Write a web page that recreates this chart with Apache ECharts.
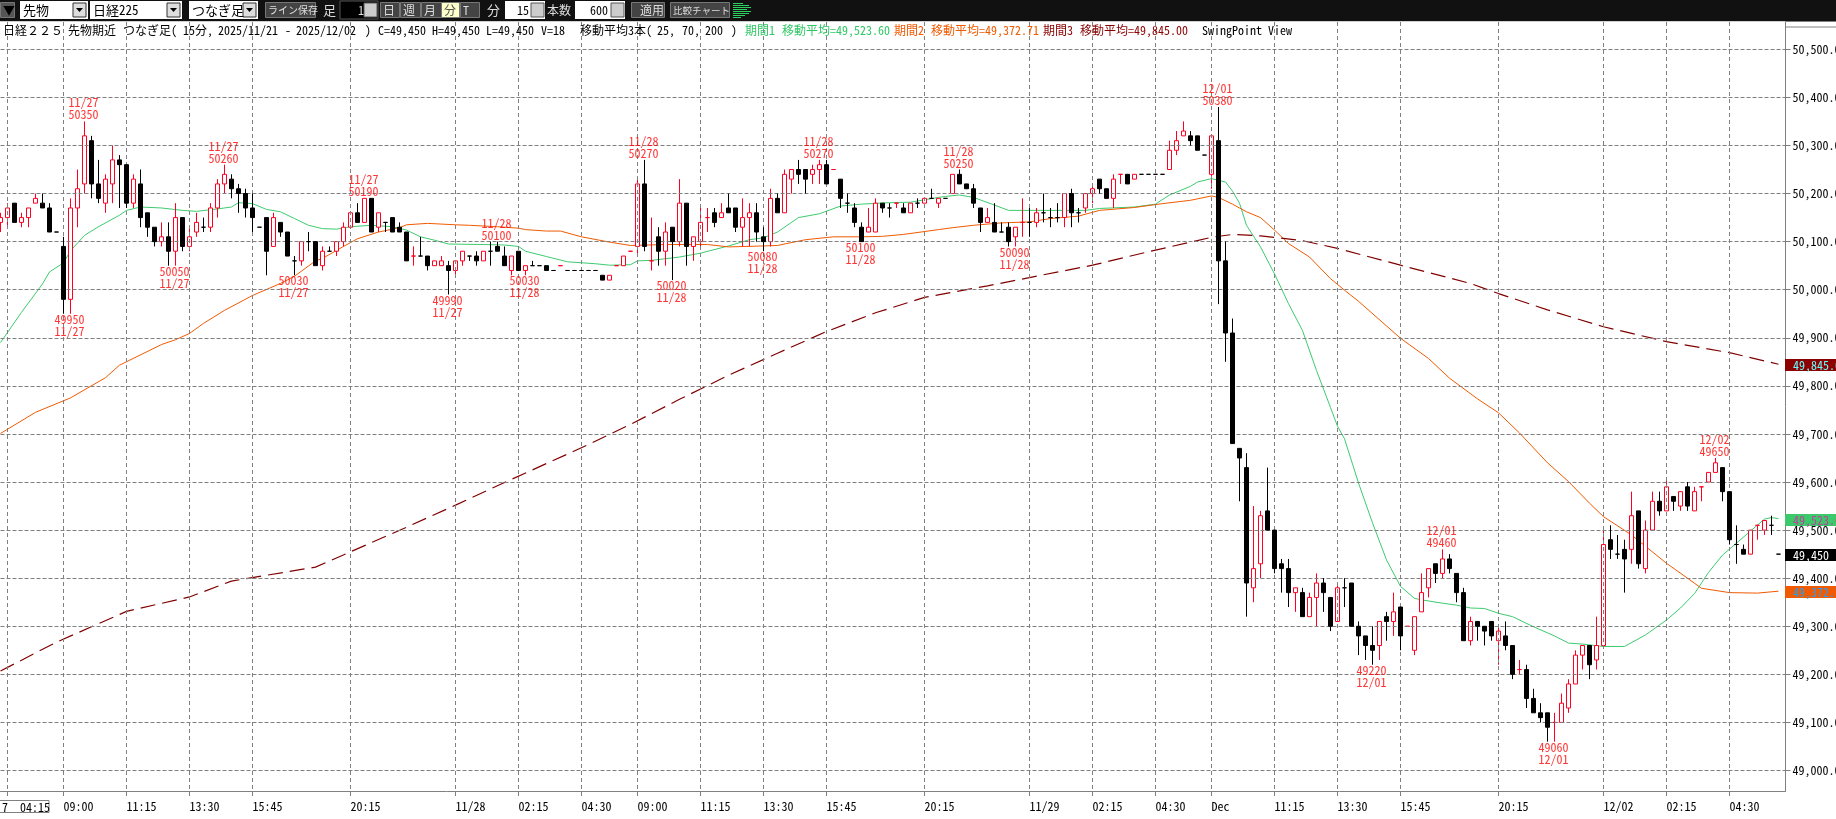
<!DOCTYPE html>
<html>
<head>
<meta charset="utf-8">
<style>html,body{margin:0;padding:0;background:#fff;overflow:hidden}#chart_main{width:1836px;height:819px}</style>
<script src="https://cdn.jsdelivr.net/npm/echarts@6/dist/echarts.min.js"></script>
</head>
<body>
<div id="chart_main"></div>
<script>
// bars, left to right
var opens = [50140,50150,50180,50140,50150,50180,50180,50170,50120,50090,49980,50170,50220,50310,50220,50180,50220,50270,50260,50180,
	50220,50160,50130,50100,50110,50080,50150,50090,50120,50130,50130,50170,50220,50230,50210,50200,50170,50130,50150,50090,
	50140,50120,50060,50060,50100,50100,50050,50080,50080,50100,50130,50160,50140,50190,50130,50140,50150,50130,50120,50070,
	50070,50070,50050,50050,50050,50040,50060,50070,50070,50060,50080,50090,50070,50040,50080,50040,50050,50050,50050,50040,
	50050,50040,50040,50040,50040,50040,50030,50020,50050,50050,50080,50090,50220,50060,50110,50080,50130,50100,50180,50090,
	50100,50150,50160,50150,50170,50170,50130,50150,50160,50110,50100,50190,50160,50230,50250,50250,50240,50250,50260,50250,
	50230,50180,50170,50130,50120,50120,50180,50170,50180,50170,50160,50180,50180,50190,50180,50190,50200,50240,50220,50210,
	50170,50140,50140,50120,50130,50110,50140,50140,50140,50160,50150,50150,50150,50200,50160,50170,50200,50230,50210,50190,
	50240,50240,50230,50240,50240,50240,50240,50250,50290,50320,50320,50320,50280,50240,50310,50060,49910,49670,49630,49380,
	49430,49540,49500,49430,49420,49370,49370,49320,49360,49390,49360,49310,49380,49390,49300,49280,49260,49260,49320,49310,
	49340,49300,49250,49330,49380,49430,49410,49440,49410,49370,49270,49310,49300,49310,49270,49280,49260,49210,49210,49150,
	49120,49120,49100,49100,49130,49180,49240,49260,49230,49260,49480,49450,49460,49460,49540,49420,49500,49560,49540,49570,
	49550,49590,49540,49590,49600,49620,49630,49580,49470,49460,49450,49510,49500,49510,49450];
var closes = [50150,50170,50140,50150,50170,50190,50170,50120,50120,49980,50170,50210,50320,50220,50190,50230,50270,50260,50180,50230,
	50150,50130,50100,50110,50080,50150,50090,50110,50140,50130,50170,50220,50240,50210,50200,50170,50150,50130,50080,50150,
	50120,50070,50060,50100,50100,50050,50080,50080,50100,50130,50160,50140,50190,50120,50160,50140,50120,50120,50060,50070,
	50070,50050,50060,50060,50040,50060,50080,50070,50060,50080,50080,50080,50050,50070,50040,50050,50050,50050,50040,50040,
	50050,50040,50040,50040,50040,50040,50020,50030,50050,50070,50080,50220,50090,50060,50080,50120,50100,50180,50090,50110,
	50140,50150,50140,50160,50160,50130,50150,50160,50120,50100,50190,50160,50240,50250,50240,50230,50250,50260,50220,50250,
	50190,50180,50140,50100,50130,50180,50170,50170,50180,50160,50180,50180,50190,50190,50190,50190,50240,50220,50210,50180,
	50140,50150,50120,50120,50100,50130,50140,50140,50160,50160,50150,50150,50200,50160,50160,50200,50210,50210,50190,50230,
	50240,50220,50240,50240,50240,50240,50240,50290,50310,50330,50310,50290,50280,50320,50060,49910,49680,49650,49390,49420,
	49530,49500,49420,49420,49370,49380,49320,49360,49390,49370,49300,49380,49380,49300,49280,49260,49250,49310,49310,49330,
	49280,49300,49320,49370,49420,49410,49440,49420,49370,49270,49310,49300,49290,49280,49290,49260,49200,49210,49150,49120,
	49110,49090,49100,49140,49180,49240,49260,49220,49260,49470,49460,49450,49440,49530,49430,49500,49560,49540,49590,49560,
	49580,49550,49580,49590,49620,49640,49580,49480,49470,49450,49500,49510,49520,49510,49450];
var highs = [50160,50180,50180,50160,50170,50200,50200,50180,50120,50110,50190,50250,50350,50320,50270,50240,50300,50280,50260,50240,
	50250,50160,50130,50140,50140,50180,50150,50130,50160,50150,50180,50230,50260,50240,50220,50210,50200,50130,50150,50160,
	50140,50120,50070,50100,50120,50100,50090,50090,50100,50140,50160,50180,50190,50190,50160,50140,50150,50140,50120,50090,
	50110,50070,50060,50070,50060,50060,50080,50070,50080,50080,50100,50100,50090,50070,50080,50050,50060,50050,50050,50040,
	50050,50040,50040,50040,50040,50040,50030,50030,50050,50070,50080,50230,50270,50150,50130,50140,50130,50230,50180,50110,
	50170,50170,50170,50180,50200,50170,50190,50180,50180,50130,50210,50200,50250,50250,50270,50250,50260,50270,50270,50250,
	50230,50200,50180,50140,50170,50190,50180,50180,50180,50180,50180,50190,50190,50210,50190,50190,50240,50250,50220,50220,
	50170,50170,50180,50140,50140,50130,50190,50170,50170,50200,50170,50180,50200,50210,50170,50200,50220,50230,50210,50240,
	50240,50240,50240,50240,50240,50240,50240,50310,50330,50350,50330,50320,50280,50320,50380,50100,49940,49670,49660,49550,
	49540,49630,49500,49440,49440,49380,49380,49370,49410,49400,49360,49390,49400,49390,49310,49280,49300,49310,49330,49370,
	49340,49300,49320,49410,49420,49430,49460,49450,49410,49380,49320,49310,49300,49310,49300,49310,49260,49230,49220,49170,
	49140,49120,49120,49160,49190,49250,49260,49260,49320,49500,49510,49490,49480,49580,49540,49520,49580,49580,49610,49570,
	49580,49600,49590,49590,49620,49650,49630,49580,49510,49470,49500,49510,49520,49530,49450];
var lows = [50120,50130,50140,50130,50130,50180,50170,50120,50120,49950,49950,50130,50200,50190,50180,50160,50180,50170,50170,50170,
	50130,50110,50090,50090,50050,50050,50080,50080,50110,50120,50120,50150,50200,50190,50160,50150,50120,50130,50030,50090,
	50110,50070,50030,50050,50080,50050,50040,50080,50070,50090,50130,50140,50140,50120,50120,50120,50120,50120,50060,50050,
	50070,50040,50050,50050,49990,50030,50050,50060,50050,50060,50050,50080,50050,50030,50040,50030,50050,50050,50040,50040,
	50050,50040,50040,50040,50040,50040,50020,50020,50050,50050,50080,50070,50080,50040,50050,50050,50020,50090,50050,50060,
	50090,50120,50130,50150,50160,50120,50090,50090,50100,50080,50090,50160,50160,50200,50220,50200,50220,50220,50220,50250,
	50170,50160,50130,50100,50120,50120,50160,50150,50170,50160,50160,50170,50180,50190,50170,50190,50200,50220,50210,50170,
	50120,50140,50120,50120,50090,50090,50110,50110,50130,50140,50130,50140,50130,50130,50140,50160,50180,50200,50190,50170,
	50220,50220,50230,50240,50240,50240,50240,50250,50280,50320,50300,50290,50280,50210,49970,49850,49680,49560,49320,49350,
	49400,49500,49410,49370,49340,49330,49320,49320,49300,49330,49290,49310,49340,49300,49240,49230,49220,49230,49270,49280,
	49250,49300,49240,49330,49360,49390,49400,49410,49350,49270,49260,49270,49260,49270,49220,49250,49190,49200,49130,49120,
	49100,49060,49060,49100,49120,49180,49210,49190,49210,49260,49440,49440,49370,49430,49420,49410,49500,49530,49540,49540,
	49540,49540,49540,49560,49600,49620,49560,49470,49430,49450,49450,49480,49490,49490,49450];
// open == close bars that are drawn red
var redDoji = [59,80,88,90,93,101,119,128,146,160,201,217,222,243,251];

var ma25 = [[0,49890],[3,49953],[6,50012],[7,50037],[9,50056],[10,50081],[12,50113],[14,50131],[17,50155],[18,50165],[20,50172],[23,50170],[26,50165],[28,50163],[31,50168],[33,50172],[34,50181],[36,50179],[38,50167],[40,50162],[42,50148],[44,50134],[46,50127],[48,50126],[50,50131],[53,50134],[56,50131],[58,50124],[60,50110],[62,50103],[64,50095],[69,50094],[72,50093],[74,50090],[75,50080],[78,50069],[81,50058],[85,50054],[87,50051],[90,50052],[91,50060],[93,50061],[97,50068],[100,50076],[104,50091],[107,50104],[109,50108],[111,50120],[114,50150],[117,50158],[120,50174],[123,50178],[127,50181],[130,50182],[134,50192],[135,50194],[137,50197],[139,50192],[142,50176],[144,50165],[147,50165],[152,50165],[155,50165],[157,50169],[162,50172],[165,50178],[167,50197],[170,50215],[171,50224],[173,50231],[175,50224],[176,50205],[177,50180],[178,50134],[180,50089],[182,50033],[184,49971],[186,49915],[188,49832],[190,49755],[191,49716],[192,49690],[194,49598],[196,49515],[198,49438],[200,49383],[202,49358],[203,49355],[206,49348],[208,49344],[210,49338],[212,49337],[214,49327],[216,49320],[219,49299],[222,49280],[224,49265],[226,49263],[229,49258],[232,49258],[235,49282],[238,49313],[240,49338],[242,49368],[244,49412],[246,49448],[248,49473],[250,49498],[252,49523],[253,49526],[254,49524]];
var ma70 = [[0,49701],[5,49745],[10,49775],[15,49817],[17,49843],[23,49886],[25,49896],[27,49909],[29,49930],[32,49957],[36,49988],[40,50013],[42,50028],[45,50060],[46,50065],[49,50090],[51,50106],[54,50120],[57,50129],[58,50135],[61,50138],[65,50135],[67,50134],[71,50131],[74,50128],[75,50125],[78,50122],[80,50122],[83,50110],[87,50099],[90,50092],[95,50094],[101,50094],[104,50089],[109,50091],[111,50092],[115,50104],[119,50110],[123,50110],[126,50111],[129,50115],[134,50125],[136,50129],[139,50134],[143,50139],[147,50141],[150,50148],[154,50153],[157,50165],[162,50171],[166,50179],[170,50186],[173,50195],[174,50192],[176,50178],[178,50162],[180,50150],[182,50124],[184,50096],[187,50068],[190,50023],[192,49999],[194,49976],[200,49899],[204,49857],[207,49816],[211,49773],[214,49744],[217,49702],[221,49640],[224,49601],[227,49556],[229,49528],[233,49490],[238,49431],[241,49400],[243,49379],[247,49370],[251,49369],[254,49373]];
var ma200 = [[0,49207],[8,49267],[18,49331],[27,49361],[33,49394],[45,49423],[58,49506],[65,49552],[72,49599],[84,49678],[90,49720],[97,49772],[104,49822],[111,49868],[118,49913],[125,49952],[132,49984],[141,50008],[149,50031],[156,50051],[164,50079],[173,50109],[176,50115],[180,50112],[186,50102],[191,50086],[200,50051],[210,50013],[214,49992],[221,49958],[229,49923],[238,49892],[247,49869],[254,49845]];

var priceTicks = [49000,49100,49200,49300,49400,49500,49600,49700,49800,49900,50000,50100,50200,50300,50400,50500];
var tickIdx = [1,9,18,27,36,50,65,74,83,91,100,109,118,132,147,156,165,173,182,191,200,214,229,238,247];
var tickText = ['','09:00','11:15','13:30','15:45','20:15','11/28','02:15','04:30','09:00','11:15','13:30','15:45','20:15','11/29','02:15','04:30','Dec','11:15','13:30','15:45','20:15','12/02','02:15','04:30'];

// swing point captions
var highIdx = [12,32,52,71,92,117,137,174,206,245];
var highPrice = [50350,50260,50190,50100,50270,50270,50250,50380,49460,49650];
var highDate = ['11/27','11/27','11/27','11/28','11/28','11/28','11/28','12/01','12/01','12/02'];
var lowIdx = [10,25,42,64,75,96,109,123,145,196,222];
var lowPrice = [49950,50050,50030,49990,50030,50020,50080,50100,50090,49220,49060];
var lowDate = ['11/27','11/27','11/27','11/27','11/28','11/28','11/28','11/28','11/28','12/01','12/01'];

// price tags on the right scale: value, text, background, text colour
var priceTags = [
	[49845,'49,845.0','#8b0000','#66ffff'],
	[49523.6,'49,523.6','#3cc96c','#c0409a'],
	[49450,'49,450','#000','#fff'],
	[49372.71,'49,372.7','#f05a00','#2f9bf0']
];

var FONT = '"Noto Sans Mono CJK JP","Noto Sans CJK JP",monospace';
var RED = '#ff0020';

var categories = [];
for (var i = 0; i < 256; i++) categories.push('');
for (var t = 0; t < tickIdx.length; t++) categories[tickIdx[t]] = tickText[t];

function isTick(index){ return tickIdx.indexOf(index) >= 0; }

var upBars = [], downBars = [];
for (var b = 0; b < opens.length; b++) {
	var bar = [opens[b], closes[b], lows[b], highs[b]];
	var red = closes[b] > opens[b] || redDoji.indexOf(b) >= 0;
	upBars.push(red ? bar : '-');
	downBars.push(red ? '-' : bar);
}

function scatterOf(idx, price){
	var res = [];
	for (var k = 0; k < idx.length; k++) res.push([idx[k], price[k]]);
	return res;
}

function txt(x, y, s, color, size){
	return {type:'text', z:60, x:x, y:y, silent:true, style:{text:s, fill:color || '#000', font:(size || 12) + 'px ' + FONT, textVerticalAlign:'middle'}};
}
function box(x, y, w, h, fill, stroke){
	return {type:'rect', z:50, silent:true, shape:{x:x, y:y, width:w, height:h}, style:{fill:fill, stroke:stroke || null, lineWidth:1}};
}
// toolbar widget helpers
function dropdown(x, w, s){
	return [box(x, 1, w, 18, '#fff'), txt(x + 3, 10, s, '#000', 13), box(x + w - 15, 3, 13, 14, '#ddd', '#333'),
		{type:'polygon', z:55, silent:true, shape:{points:[[x + w - 12,8],[x + w - 5,8],[x + w - 8.5,12]]}, style:{fill:'#000'}}];
}
function darkBtn(x, w, s, fill, color){
	return [box(x + 0.5, 2.5, w, 15, fill || '#444', '#777'), txt(x + 3, 10, s, color || '#ddd', 12)];
}

var elems = [];
elems.push(box(0, 0, 1836, 21, '#111'));
elems.push(box(0, 21, 1836, 1, '#d0d0d0'));
elems = elems.concat(darkBtn(0, 14, '▼', '#555', '#000'));
elems = elems.concat(dropdown(20, 68, '先物'), dropdown(90, 92, '日経225'), dropdown(189, 69, 'つなぎ足'));
elems = elems.concat(darkBtn(265, 50, 'ライン保存'));
elems[elems.length - 1].style.font = '10px ' + FONT;
elems.push(txt(323, 10, '足', '#ddd', 13));
elems.push(box(340, 1, 38, 18, '#000', '#555'), txt(358, 10, '1', '#ddd'), box(364, 3, 13, 14, '#ccc', '#555'));
elems = elems.concat(darkBtn(380, 19, '日'), darkBtn(400, 20, '週'), darkBtn(421, 20, '月'), darkBtn(441, 18, '分', '#ffffcc', '#555'), darkBtn(460, 19, 'T'));
elems.push(txt(487, 10, '分', '#ddd', 13));
elems.push(box(505, 1, 40, 18, '#fff'), txt(517, 10, '15', '#000'), box(531, 3, 13, 14, '#ccc', '#555'));
elems.push(txt(547, 10, '本数', '#ddd'));
elems.push(box(575, 1, 50, 18, '#fff'), txt(590, 10, '600', '#000'), box(611, 3, 13, 14, '#ccc', '#555'));
elems = elems.concat(darkBtn(631, 33, ' 適用'), darkBtn(670, 59, '比較チャート'));
elems[elems.length - 1].style.font = '9.5px ' + FONT;
// little green bars icon
var iconY = [3,5,7,9,11,13,15,17], iconW = [10,16,18,14,18,16,12,8];
for (var n = 0; n < iconY.length; n++) elems.push(box(733, iconY[n], iconW[n], 1, '#2fd060'));

// header text
var headerBits = [
	[3,'日経２２５'],[68,'先物期近'],[123,'つなぎ足('],[183,'15分,'],[218,'2025/11/21'],[285,'-'],[296,'2025/12/02'],[365,')'],
	[378,'C=49,450'],[432,'H=49,450'],[486,'L=49,450'],[541,'V=18'],[580,'移動平均3本('],[657,'25,'],[682,'70,'],[705,'200'],[731,')'],
	[745,'期間1','#2fc866'],[782,'移動平均=49,523.60','#2fc866'],[894,'期間2','#f05a00'],[931,'移動平均=49,372.71','#f05a00'],
	[1043,'期間3','#8b0000'],[1080,'移動平均=49,845.00','#8b0000'],[1202,'SwingPoint View']
];
for (var h = 0; h < headerBits.length; h++) elems.push(txt(headerBits[h][0], 30, headerBits[h][1], headerBits[h][2]));

// cursor readouts: top of the price scale and left end of the time scale
elems.push(box(1785.5, 21.5, 60, 5.5, '#fff', '#808080'));
elems.push(box(-1, 800.5, 50, 12, '#fff', '#808080'), txt(2, 807, '7', '#000'), txt(20, 807, '04:15', '#000'));

var chartDom = document.getElementById('chart_main');
var myChart = echarts.init(chartDom);
var option = {
	animation: false,
	backgroundColor: '#fff',
	grid: {left: 0.5, top: 22, width: 1785, height: 769, containLabel: false, outerBoundsMode: 'none'},
	xAxis: {
		type: 'category',
		boundaryGap: false,
		data: categories,
		z: 3,
		axisLine: {lineStyle: {color: '#808080'}},
		axisTick: {interval: function(i){ return isTick(i); }, length: 5, lineStyle: {color: '#808080'}},
		axisLabel: {
			interval: function(i){ return isTick(i) && i !== 1; },
			align: 'left', margin: 9, color: '#000', fontFamily: FONT, fontSize: 12, hideOverlap: false
		},
		splitLine: {show: true, interval: function(i){ return isTick(i); }, lineStyle: {color: '#808080', type: [4, 3]}}
	},
	yAxis: {
		type: 'value',
		position: 'right',
		min: 48957.4,
		max: 50556.8,
		z: 3,
		axisLine: {show: true, lineStyle: {color: '#808080'}},
		axisTick: {show: true, length: 5, customValues: priceTicks, lineStyle: {color: '#808080'}},
		axisLabel: {
			customValues: priceTicks, margin: 7, align: 'left', color: '#000', fontFamily: FONT, fontSize: 12,
			formatter: function(v){ return v.toFixed(1).replace(/\B(?=(\d{3})+\.)/g, ','); }
		},
		splitLine: {show: true, customValues: priceTicks, lineStyle: {color: '#808080', type: [4, 2]}}
	},
	series: [
		{name: 'MA25', type: 'line', z: 1, data: ma25, symbol: 'none', lineStyle: {color: '#3ccb6e', width: 1}},
		{name: 'MA70', type: 'line', z: 1, data: ma70, symbol: 'none', lineStyle: {color: '#f05a00', width: 1}},
		{name: 'MA200', type: 'line', z: 1, data: ma200, symbol: 'none', lineStyle: {color: '#800000', width: 1.2, type: [15, 7]}},
		{name: 'up', type: 'candlestick', z: 2, clip: false, barWidth: 5, data: upBars,
			itemStyle: {color: '#fff', color0: '#fff', borderColor: RED, borderColor0: RED, borderColorDoji: RED, borderWidth: 1}},
		{name: 'down', type: 'candlestick', z: 4, clip: false, barWidth: 5, data: downBars,
			itemStyle: {color: '#000', color0: '#000', borderColor: '#000', borderColor0: '#000', borderColorDoji: '#000', borderWidth: 1}},
		{name: 'highs', type: 'scatter', z: 5, symbolSize: 1, data: scatterOf(highIdx, highPrice), itemStyle: {color: 'transparent'},
			label: {show: true, position: 'top', distance: 0, color: '#ff0000', fontFamily: FONT, fontSize: 12, lineHeight: 12, offset: [-1, 0],
				formatter: function(p){ return highDate[p.dataIndex] + '\n' + highPrice[p.dataIndex]; }}},
		{name: 'lows', type: 'scatter', z: 5, symbolSize: 1, data: scatterOf(lowIdx, lowPrice), itemStyle: {color: 'transparent'},
			label: {show: true, position: 'bottom', distance: 0, color: '#ff0000', fontFamily: FONT, fontSize: 12, lineHeight: 12, offset: [-1, -1],
				formatter: function(p){ return lowPrice[p.dataIndex] + '\n' + lowDate[p.dataIndex]; }}}
	]
};
myChart.setOption(option);

// tags sit on the scale, so ask the axis where they go
for (var g = 0; g < priceTags.length; g++) {
	var py = Math.round(myChart.convertToPixel({yAxisIndex: 0}, priceTags[g][0]));
	elems.push(box(1785, py - 5, 51, 12, priceTags[g][2]));
	elems.push(txt(1793, py + 1, priceTags[g][1], priceTags[g][3]));
}
myChart.setOption({graphic: {elements: elems}});
</script>
</body>
</html>
